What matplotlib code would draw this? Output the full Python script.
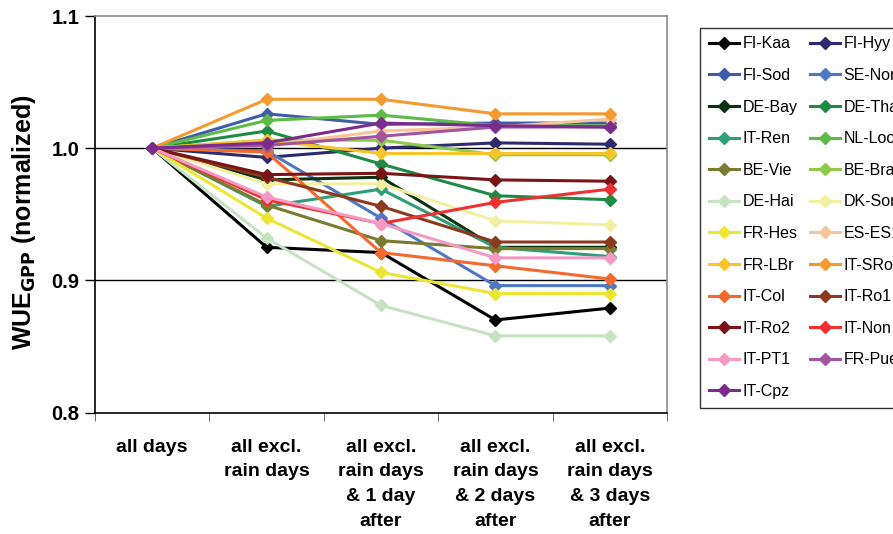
import matplotlib
matplotlib.use("Agg")
import matplotlib.pyplot as plt
import numpy as np

plt.rcParams['font.family'] = ['Liberation Sans', 'DejaVu Sans']

categories = ["all days", "all excl.\nrain days", "all excl.\nrain days\n& 1 day\nafter",
              "all excl.\nrain days\n& 2 days\nafter", "all excl.\nrain days\n& 3 days\nafter"]

FI_Kaa = [1.0, 0.925, 0.921, 0.870, 0.879]
FI_Hyy = [1.0, 0.993, 1.000, 1.004, 1.003]
FI_Sod = [1.0, 1.026, 1.018, 1.019, 1.019]
SE_Nor = [1.0, 0.998, 0.947, 0.896, 0.896]
DE_Bay = [1.0, 0.976, 0.978, 0.925, 0.925]
DE_Tha = [1.0, 1.013, 0.988, 0.964, 0.961]
IT_Ren = [1.0, 0.956, 0.969, 0.925, 0.918]
NL_Loo = [1.0, 1.021, 1.025, 1.017, 1.017]
BE_Vie = [1.0, 0.957, 0.930, 0.924, 0.924]
BE_Bra = [1.0, 1.006, 1.006, 0.995, 0.995]
DE_Hai = [1.0, 0.932, 0.881, 0.858, 0.858]
DK_Sor = [1.0, 0.973, 0.973, 0.945, 0.942]
FR_Hes = [1.0, 0.947, 0.906, 0.890, 0.890]
ES_ES1 = [1.0, 1.002, 1.013, 1.016, 1.022]
FR_LBr = [1.0, 1.006, 0.996, 0.996, 0.996]
IT_SRo = [1.0, 1.037, 1.037, 1.026, 1.026]
IT_Col = [1.0, 0.997, 0.921, 0.911, 0.901]
IT_Ro1 = [1.0, 0.978, 0.956, 0.929, 0.929]
IT_Ro2 = [1.0, 0.980, 0.981, 0.976, 0.975]
IT_Non = [1.0, 0.961, 0.943, 0.959, 0.969]
IT_PT1 = [1.0, 0.963, 0.943, 0.917, 0.917]
FR_Pue = [1.0, 1.002, 1.009, 1.016, 1.016]
IT_Cpz = [1.0, 1.004, 1.019, 1.017, 1.016]

series = [
    ("FI-Kaa", FI_Kaa, "#000000"), ("FI-Hyy", FI_Hyy, "#2E2A6E"),
    ("FI-Sod", FI_Sod, "#3F5BAA"), ("SE-Nor", SE_Nor, "#4F78C4"),
    ("DE-Bay", DE_Bay, "#0B3311"), ("DE-Tha", DE_Tha, "#1E8A44"),
    ("IT-Ren", IT_Ren, "#2E9E78"), ("NL-Loo", NL_Loo, "#5DBB46"),
    ("BE-Vie", BE_Vie, "#7A7A30"), ("BE-Bra", BE_Bra, "#8CCB4A"),
    ("DE-Hai", DE_Hai, "#C5E3C0"), ("DK-Sor", DK_Sor, "#F2F0A0"),
    ("FR-Hes", FR_Hes, "#ECE632"), ("ES-ES1", ES_ES1, "#F9C49A"),
    ("FR-LBr", FR_LBr, "#F7C52A"), ("IT-SRo", IT_SRo, "#F59A30"),
    ("IT-Col", IT_Col, "#F26A2E"), ("IT-Ro1", IT_Ro1, "#8B3A1E"),
    ("IT-Ro2", IT_Ro2, "#7B1416"), ("IT-Non", IT_Non, "#EE3030"),
    ("IT-PT1", IT_PT1, "#F49AC4"), ("FR-Pue", FR_Pue, "#A2559E"),
    ("IT-Cpz", IT_Cpz, "#7B2A8E"),
]

fig = plt.figure(figsize=(8.93, 5.34), dpi=100)
ax = fig.add_axes([95/893, 1 - 412.5/534, (667-95)/893, (412.5-16)/534])

x = np.arange(len(categories))
handles = {}
for name, vals, col in series:
    h, = ax.plot(x, vals, color=col, lw=2.2, marker='D', ms=6.5,
                 mfc=col, mec=col, label=name, solid_joinstyle='round')
    handles[name] = h

ax.set_xlim(-0.5, len(categories) - 0.5)
ax.set_ylim(0.8, 1.1)
ax.set_yticks([0.8, 0.9, 1.0, 1.1])
ax.set_yticklabels(["0.8", "0.9", "1.0", "1.1"], fontsize=14.5, fontweight='bold')
for gy in [0.9, 1.0]:
    ax.axhline(gy, color='black', lw=1.0, zorder=0)

ax.set_xticks(x)
ax.set_xticklabels(categories, fontsize=14, fontweight='bold', linespacing=1.58,
                   va='top')
ax.tick_params(axis='x', which='major', length=0, pad=19)
ax.set_xticks(np.arange(len(categories) + 1) - 0.5, minor=True)
ax.tick_params(axis='x', which='minor', length=6, direction='out', color='#555555')
ax.tick_params(axis='y', length=7, direction='out', width=1, pad=4)

ax.spines['left'].set_color('black')
ax.spines['bottom'].set_color('black')
ax.spines['top'].set_color('#8c8c8c')
ax.spines['right'].set_color('#8c8c8c')
for s in ax.spines.values():
    s.set_linewidth(1.2)

ax.set_ylabel(r"WUE$_{\mathbf{GPP}}$ (normalized)", fontsize=18, fontweight='bold')
ax.yaxis.set_label_coords(-0.1, 0.48)

order = [s[0] for s in series]
col1 = order[0::2]
col2 = order[1::2]
leg_order = col1 + col2
leg = fig.legend([handles[n] for n in leg_order], leg_order, ncol=2,
                 loc='upper left', bbox_to_anchor=(700/893, 1 - 27.5/534),
                 borderaxespad=0.0,
                 frameon=True, fancybox=False, edgecolor='black',
                 fontsize=11.5, handlelength=1.9, handletextpad=0.22,
                 columnspacing=0.75, labelspacing=1.04, borderpad=0.55,
                 markerscale=1.0)
leg.get_frame().set_linewidth(1.0)

fig.savefig("out.png", dpi=100)
